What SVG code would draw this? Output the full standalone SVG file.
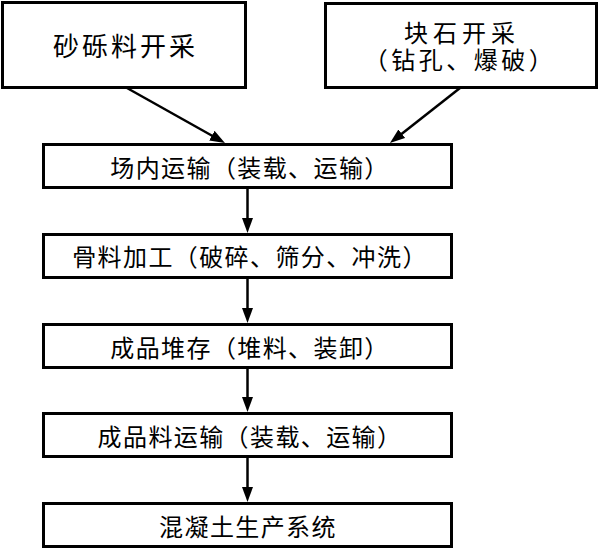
<svg xmlns="http://www.w3.org/2000/svg" width="600" height="549" viewBox="0 0 600 549">
<style>
.box{fill:#fff;stroke:#000;stroke-width:3}
.t{font-family:"Liberation Sans","Noto Sans CJK SC",sans-serif;fill:#000;text-anchor:middle;dominant-baseline:central}
.big{font-size:26px;letter-spacing:3px}
.mid{font-size:24px}
.sm{font-size:24px;letter-spacing:1.4px}
.ln{stroke:#000;stroke-width:2.5;fill:none;marker-end:url(#ah)}
</style>
<defs>
<marker id="ah" markerUnits="userSpaceOnUse" markerWidth="16" markerHeight="12" refX="10" refY="5.5" orient="auto">
<path d="M0,0 L15,5.5 L0,11 z" fill="#000"/>
</marker>
</defs>
<rect width="600" height="549" fill="#fff"/>
<g id="connectors">
<line class="ln" x1="127" y1="88" x2="220.6" y2="140.5"/>
<line class="ln" x1="460" y1="88" x2="393.9" y2="139.9"/>
<line class="ln" x1="247.5" y1="189" x2="247.5" y2="228"/>
<line class="ln" x1="247.5" y1="279" x2="247.5" y2="318"/>
<line class="ln" x1="247.5" y1="369" x2="247.5" y2="407"/>
<line class="ln" x1="247.5" y1="458" x2="247.5" y2="497"/>
</g>
<g id="n1">
<rect class="box" x="2.5" y="2.5" width="243" height="85"/>
<text class="t big" x="125.5" y="47">砂砾料开采</text>
</g>
<g id="n2">
<rect class="box" x="325.5" y="3.5" width="271" height="84"/>
<text class="t mid"><tspan x="462" y="33" style="letter-spacing:5px">块石开采</tspan><tspan x="460" y="60" style="letter-spacing:3.5px">（钻孔、爆破）</tspan></text>
</g>
<g id="n3">
<rect class="box" x="43.5" y="144.5" width="408" height="43"/>
<text class="t sm" x="250" y="168.5">场内运输（装载、运输）</text>
</g>
<g id="n4">
<rect class="box" x="43.5" y="234.5" width="408" height="43"/>
<text class="t sm" x="250" y="257.5">骨料加工（破碎、筛分、冲洗）</text>
</g>
<g id="n5">
<rect class="box" x="43.5" y="324.5" width="408" height="43"/>
<text class="t sm" x="250" y="348.5">成品堆存（堆料、装卸）</text>
</g>
<g id="n6">
<rect class="box" x="43.5" y="413.5" width="408" height="43"/>
<text class="t sm" x="250" y="437.5">成品料运输（装载、运输）</text>
</g>
<g id="n7">
<rect class="box" x="43.5" y="503.5" width="408" height="43"/>
<text class="t sm" x="248" y="527.5">混凝土生产系统</text>
</g>
</svg>
